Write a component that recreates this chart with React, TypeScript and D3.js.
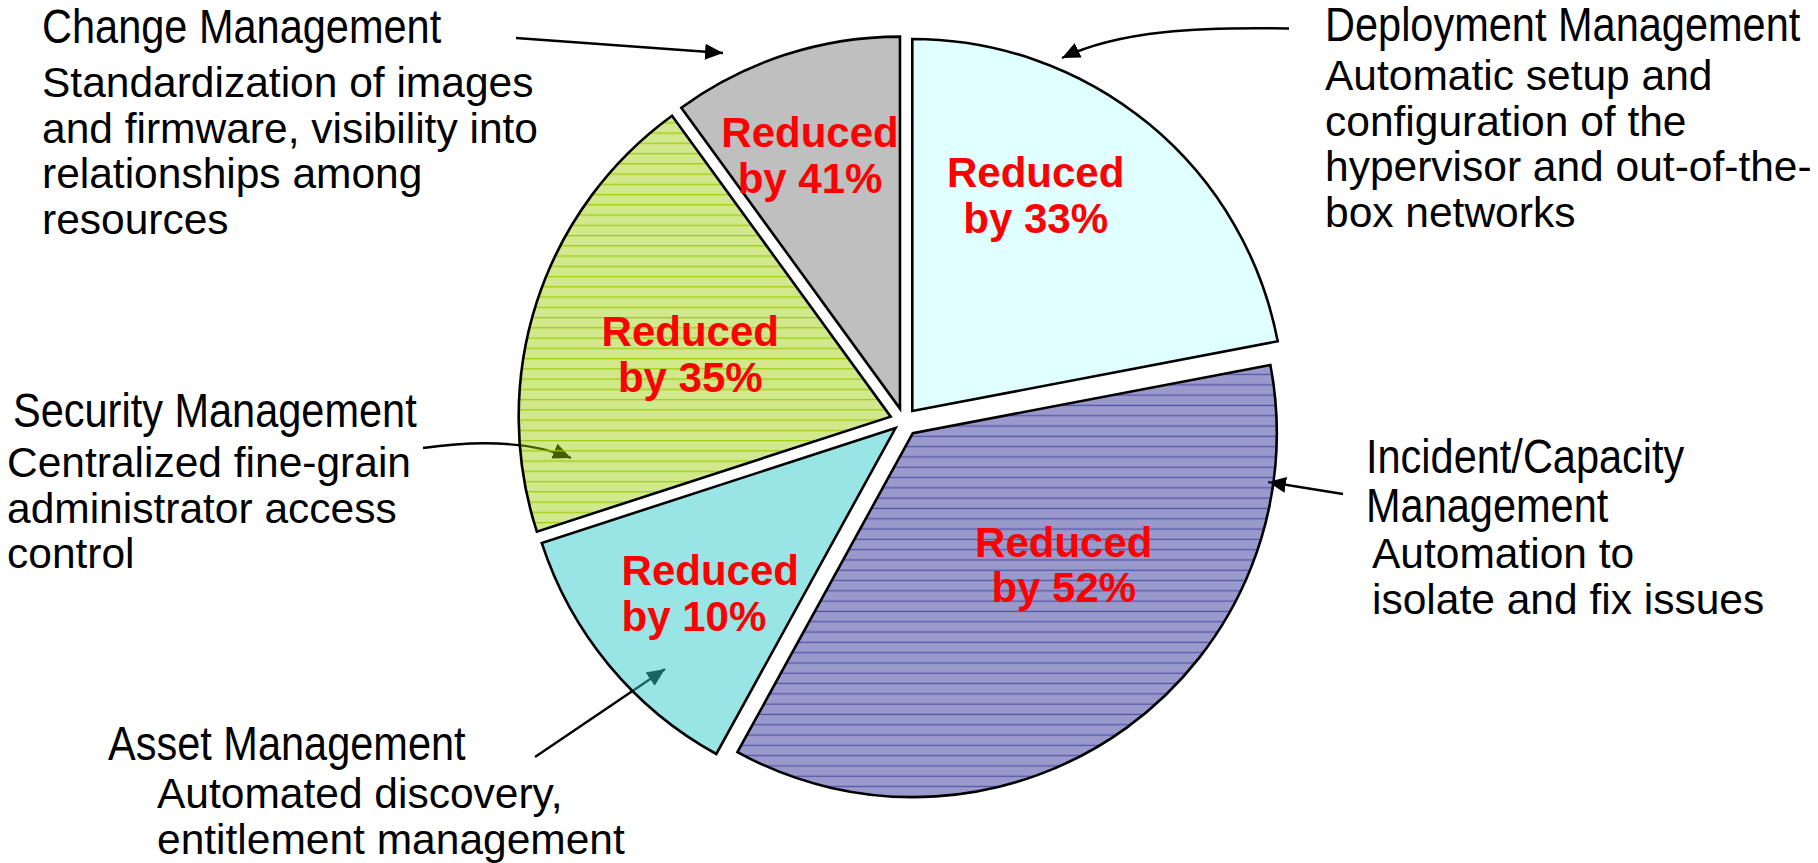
import React from 'react';
import * as d3 from 'd3';

// ---------------- data ----------------
const categories = [
  'Deployment Management',
  'Incident/Capacity Management',
  'Asset Management',
  'Security Management',
  'Change Management',
];
const shares = [22, 36, 12, 20, 10];
const reductions = [33, 52, 10, 35, 41];

const titleLines = [
  ['Deployment Management'],
  ['Incident/Capacity', 'Management'],
  ['Asset Management'],
  ['Security Management'],
  ['Change Management'],
];
const descLines = [
  ['Automatic setup and', 'configuration of the', 'hypervisor and out-of-the-', 'box networks'],
  ['Automation to', 'isolate and fix issues'],
  ['Automated discovery,', 'entitlement management'],
  ['Centralized fine-grain', 'administrator access', 'control'],
  ['Standardization of images', 'and firmware, visibility into', 'relationships among', 'resources'],
];

// ---------------- layout / style ----------------
const W = 1818;
const H = 863;
const CX = 904;
const CY = 421;
const R = 372;
const explode = [13, 15, 11, 14, 13];
const radii = [R, 364, R, R, R];
const fills = ['#E0FFFF', 'url(#pInc)', 'url(#pAsset)', 'url(#pSec)', 'url(#pChg)'];
const labelPolar = [
  { a: 29.7, r: 249, align: 'middle' },
  { a: 131, r: 200, align: 'middle' },
  { a: 228.4, r: 248, align: 'start' },
  { a: 287.4, r: 210, align: 'middle' },
  { a: 340.5, r: 269.5, align: 'middle' },
];
const titlePos = [
  { x: 1325, y: 41 },
  { x: 1366, y: 473 },
  { x: 108, y: 760 },
  { x: 13, y: 427 },
  { x: 42, y: 43 },
];
const descPos = [
  { x: 1325, y: 90 },
  { x: 1372, y: 568 },
  { x: 157, y: 808 },
  { x: 7, y: 477 },
  { x: 42, y: 97 },
];
const titleLH = 49;
const descLH = 45.5;
const titleSize = 48;
const titleScaleX = 0.865;

const FONT = 'Liberation Sans, Arial, Helvetica, sans-serif';

const arrows = [
  { d: 'M1289,28.5 C1200,27 1120,30 1062,58' },
  { d: 'M1343,494 L1268,482' },
  { d: 'M535,757 L665,669' },
  { d: 'M423,448 C480,440 530,441 571,458' },
  { d: 'M516,38 L723,53' },
];

export default function App() {
  const pie = d3
    .pie<number>()
    .sort(null)
    .value((d) => d)
    .startAngle(0)
    .endAngle(2 * Math.PI)(shares);

  const slices = pie.map((p, i) => {
    const mid = (p.startAngle + p.endAngle) / 2;
    const ox = CX + explode[i] * Math.sin(mid);
    const oy = CY - explode[i] * Math.cos(mid);
    const path = d3
      .arc<any>()
      .innerRadius(0)
      .outerRadius(radii[i])({ startAngle: p.startAngle, endAngle: p.endAngle } as any) as string;
    const lp = labelPolar[i];
    const la = (lp.a * Math.PI) / 180;
    const lx = ox + lp.r * Math.sin(la);
    const ly = oy - lp.r * Math.cos(la);
    return { i, ox, oy, path, lx, ly, align: lp.align };
  });

  return (
    <svg
      width={W}
      height={H}
      viewBox={`0 0 ${W} ${H}`}
      style={{ position: 'absolute', left: 0, top: 0, background: '#fff' }}
    >
      <defs>
        <marker
          id="ah"
          viewBox="-18 -9 19 18"
          refX={0}
          refY={0}
          markerWidth={19}
          markerHeight={18}
          markerUnits="userSpaceOnUse"
          orient="auto"
        >
          <path d="M0,0 L-18,-8 L-18,8 Z" fill="#000" />
        </marker>
        <pattern id="pInc" width={8} height={10.3} patternUnits="userSpaceOnUse">
          <rect width={8} height={10.3} fill="#333399" fillOpacity={0.5} />
          <line x1={0} x2={8} y1={3.2} y2={3.2} stroke="#333399" strokeOpacity={0.65} strokeWidth={1.3} />
        </pattern>
        <pattern id="pSec" width={8} height={10.25} patternUnits="userSpaceOnUse">
          <rect width={8} height={10.25} fill="#99CC00" fillOpacity={0.45} />
          <line x1={0} x2={8} y1={3.4} y2={3.4} stroke="#99CC00" strokeOpacity={0.9} strokeWidth={1.3} />
        </pattern>
        <pattern id="pAsset" width={4} height={4} patternUnits="userSpaceOnUse">
          <rect width={4} height={4} fill="#33CCCC" fillOpacity={0.5} />
        </pattern>
        <pattern id="pChg" width={4} height={4} patternUnits="userSpaceOnUse">
          <rect width={4} height={4} fill="#808080" fillOpacity={0.5} />
        </pattern>
      </defs>

      {/* leader arrows (drawn under the translucent slices) */}
      <g fill="none" stroke="#000" strokeWidth={2.4}>
        {arrows.map((a, i) => (
          <path key={i} d={a.d} markerEnd="url(#ah)" />
        ))}
      </g>

      {/* slices */}
      <g stroke="#000" strokeWidth={2.6} strokeLinejoin="miter">
        {slices.map((s) => (
          <path key={s.i} d={s.path} transform={`translate(${s.ox},${s.oy})`} fill={fills[s.i]} />
        ))}
      </g>

      {/* red labels */}
      <g fill="#FF0000" fontFamily={FONT} fontWeight="bold" fontSize={42}>
        {slices.map((s) => {
          const startX = s.lx - 88.5;
          const x = s.align === 'start' ? startX : s.lx;
          return (
            <text key={s.i} textAnchor={s.align} x={x} y={s.ly - 7.5}>
              <tspan x={x} dy={0}>Reduced</tspan>
              <tspan x={x} dy={45.5}>{`by ${reductions[s.i]}%`}</tspan>
            </text>
          );
        })}
      </g>

      {/* annotations */}
      <g fill="#000" fontFamily={FONT}>
        {categories.map((c, i) => (
          <g key={c}>
            {titleLines[i].map((t, j) => (
              <text
                key={j}
                fontSize={titleSize}
                transform={`translate(${titlePos[i].x},${titlePos[i].y + j * titleLH}) scale(${titleScaleX},1)`}
              >
                {t}
              </text>
            ))}
            {descLines[i].map((t, j) => (
              <text key={'d' + j} fontSize={42.5} x={descPos[i].x} y={descPos[i].y + j * descLH}>
                {t}
              </text>
            ))}
          </g>
        ))}
      </g>
    </svg>
  );
}
